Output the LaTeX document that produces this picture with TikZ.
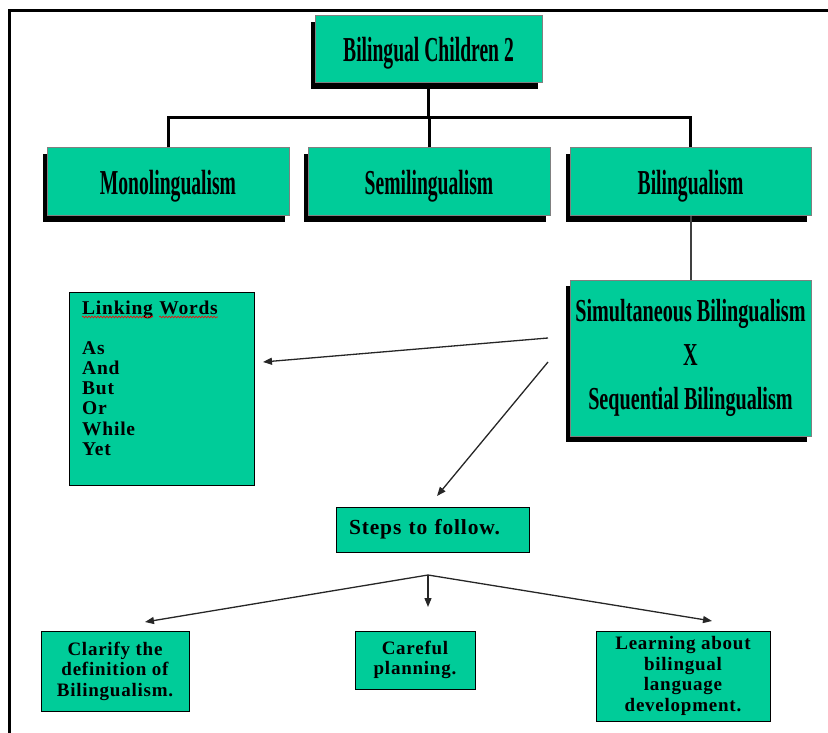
\documentclass[tikz,border=0pt]{standalone}
\usepackage{fontspec}
\setmainfont{Liberation Serif}
% condensed heavy serif used for the heading boxes
\newfontfamily\titlefont[FakeStretch=0.56]{Liberation Serif Bold}
\newfontfamily\pairfont[FakeStretch=0.63]{Liberation Serif Bold}
% slightly letter-spaced bold serif for the small boxes
\newfontfamily\spacedfont[LetterSpace=4]{Liberation Serif Bold}
\usetikzlibrary{arrows.meta,shadows,decorations.pathmorphing}
\definecolor{seagreen}{RGB}{0,204,153}
\definecolor{edgegrey}{RGB}{128,128,128}
\definecolor{linkgrey}{RGB}{64,64,64}

\begin{document}
\begin{tikzpicture}[x=1pt,y=-1pt,
  titlebox/.style={draw=edgegrey, line width=1pt, fill=seagreen, inner sep=0pt,
    drop shadow={shadow xshift=-4.5pt, shadow yshift=-6pt, fill=black, opacity=1}},
  headtext/.style={font=\titlefont\fontsize{35}{40}\selectfont, text depth=0pt},
  plainbox/.style={draw=black, line width=1pt, fill=seagreen, inner sep=0pt},
  smalltext/.style={font=\spacedfont\fontsize{19}{20.5}\selectfont, align=center},
  treeline/.style={line width=3pt, black},
  thinlink/.style={line width=2pt, linkgrey},
  arrowline/.style={line width=1.3pt, black!85, -{Triangle[length=9pt,width=7pt]}},
  spellmark/.style={red, line width=0.6pt, decorate,
    decoration={snake, amplitude=0.9pt, segment length=3pt}}
]
\useasboundingbox (0,0) rectangle (828,733);

% page frame
\draw[line width=3pt, line join=miter] (9.5,733) -- (9.5,11) -- (828,11);

% heading boxes
\node[titlebox, headtext, minimum width=227pt, minimum height=67pt] (top) at (428.5,49.5) {Bilingual Children 2};
\node[titlebox, headtext, minimum width=242pt, minimum height=68pt] (mono) at (168,182) {Monolingualism};
\node[titlebox, headtext, minimum width=242pt, minimum height=68pt] (semi) at (429,182) {Semilingualism};
\node[titlebox, headtext, minimum width=241pt, minimum height=68pt] (bili) at (690.5,182) {Bilingualism};
\node[titlebox, minimum width=241pt, minimum height=156pt, align=center,
      font=\pairfont\fontsize{32}{44}\selectfont] (simul) at (690.5,358)
      {Simultaneous Bilingualism\\X\\Sequential Bilingualism};

% tree connectors
\coordinate (bar) at (0,118);
\draw[treeline] (top.south) -- (top.south |- bar);
\draw[treeline] (mono.north) -- (mono.north |- bar) -- (bili.north |- bar) -- (bili.north);
\draw[treeline] (semi.north) -- (semi.north |- bar);
\draw[thinlink] (bili.south) -- (simul.north);

% linking words box
\node[plainbox, minimum width=185pt, minimum height=193pt] (link) at (161.5,388.5) {};
\begin{scope}[font=\spacedfont\fontsize{19.5}{20.3}\selectfont, inner sep=0pt]
  \node[anchor=base west] (linkA) at (82,314) {Linking};
  \node[anchor=base west] (linkB) at ([xshift=6pt]linkA.base east) {Words};
  \node[anchor=north west, align=left] (linklist) at (82,341) {As\\And\\But\\Or\\While\\Yet};
\end{scope}
\draw[spellmark] ([yshift=-3pt]linkA.base west) -- ([yshift=-3pt]linkA.base east);
\draw[spellmark] ([yshift=-3pt]linkB.base west) -- ([yshift=-3pt]linkB.base east);

% steps box
\node[plainbox, inner xsep=13pt, text width=167pt, minimum height=45pt, align=left,
      font=\spacedfont\fontsize{21.5}{22}\selectfont] (steps) at (432.5,529.5) {Steps to follow.};

% bottom boxes
\node[plainbox, smalltext, minimum width=148pt, minimum height=80pt] (clarify) at (115,671)
  {Clarify the\\definition of\\Bilingualism.};
\node[plainbox, smalltext, minimum width=120pt, minimum height=58pt] (careful) at (415,660)
  {Careful\\planning.};
\node[plainbox, smalltext, minimum width=174pt, minimum height=90pt] (learning) at (683,676)
  {Learning about\\bilingual\\language\\development.};

% arrows
\coordinate (linkfrom) at (548,338);
\coordinate (linkin) at (263,362);
\coordinate (stepsfrom) at (548,362);
\coordinate (stepsin) at (437,496);
\coordinate (fork) at (428,575);
\coordinate (clarifyin) at (145,622);
\coordinate (carefulin) at (428,607);
\coordinate (learningin) at (712,621);
\draw[arrowline] (linkfrom) -- (linkin);
\draw[arrowline] (stepsfrom) -- (stepsin);
\draw[arrowline] (fork) -- (clarifyin);
\draw[arrowline] (fork) -- (carefulin);
\draw[arrowline] (fork) -- (learningin);
\end{tikzpicture}
\end{document}
